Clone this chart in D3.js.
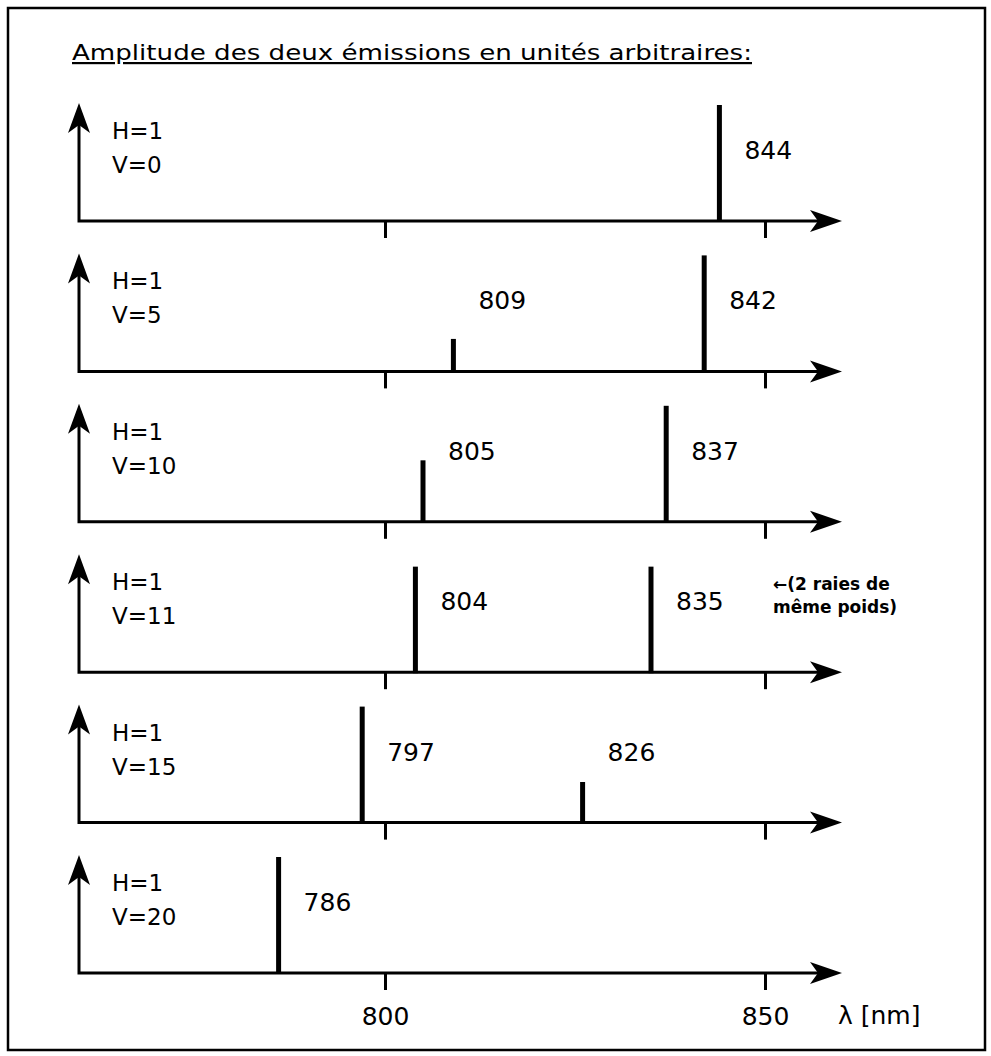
<!DOCTYPE html>
<head>
<meta charset="utf-8">
<style>
body { margin: 0; background: #fff; }
text { font-family: "DejaVu Sans", sans-serif; fill: #000; }
.axe { stroke: #000; stroke-width: 3; fill: none; }
.raie { stroke: #000; stroke-width: 5; }
</style>
<body>
<script src="https://cdn.jsdelivr.net/npm/d3@7/dist/d3.min.js"></script>
<script>

// data
var panels = ["V=0", "V=5", "V=10", "V=11", "V=15", "V=20"];
var hLabel = "H=1";
var wavelengths = [[844], [809, 842], [805, 837], [804, 835], [797, 826], [786]];
var amplitudes = [[1.0], [0.28, 1.0], [0.53, 1.0], [0.91, 0.91], [1.0, 0.35], [1.0]];
var tickValues = [800, 850];
var title = "Amplitude des deux émissions en unités arbitraires:";
var note = ["←(2 raies de", "même poids)"];
var unitLabel = "λ [nm]";

var width = 991, height = 1056;

var svg = d3.select("body").append("svg")
    .attr("width", width)
    .attr("height", height);

// frame
svg.append("rect")
    .attr("x", 8).attr("y", 8)
    .attr("width", 977).attr("height", 1042)
    .attr("fill", "none")
    .attr("stroke", "#000")
    .attr("stroke-width", 2.5);

// title
svg.append("text")
    .attr("x", 72).attr("y", 60)
    .style("font-size", "22px")
    .style("text-decoration", "underline")
    .attr("textLength", 680)
    .attr("lengthAdjust", "spacingAndGlyphs")
    .text(title);

// scales
var x = d3.scaleLinear().domain([800, 850]).range([385, 765]);
var base = d3.scalePoint().domain(panels).range([221, 973]);
var amp = d3.scaleLinear().domain([0, 1]).range([0, 116]);

var axisLeft = 79, axisRight = 842, axisTop = 118;

panels.forEach(function(p, i) {
  var g = svg.append("g").attr("transform", "translate(0," + base(p) + ")");

  // ticks at 800 and 850 (labels only on the last panel)
  var last = i === panels.length - 1;
  var ax = g.append("g")
      .call(d3.axisBottom(x).tickValues(tickValues).tickSize(17)
        .tickPadding(17).tickFormat(last ? d3.format("d") : ""));
  ax.select(".domain").remove();
  ax.selectAll("line").attr("stroke", "#000").attr("stroke-width", 3);
  ax.selectAll("text").style("font-family", "DejaVu Sans").style("font-size", "25px").attr("fill", "#000");

  // axes
  g.append("path").attr("class", "axe")
      .attr("d", "M" + axisLeft + ",-" + (axisTop - 8) + "V0H" + (axisRight - 10));
  g.append("path")
      .attr("d", "M" + axisRight + ",0l-32,-11l8,11l-8,11z");
  g.append("path")
      .attr("d", "M" + axisLeft + ",-" + axisTop + "l-11,30l11,-8l11,8z");

  // labels H / V
  g.append("text").attr("x", 112).attr("y", -82).style("font-size", "23px").text(hLabel);
  g.append("text").attr("x", 112).attr("y", -48).style("font-size", "23px").text(p);

  // emission lines
  var d = wavelengths[i].map(function(w, j) { return {w: w, a: amplitudes[i][j]}; });
  g.selectAll(".raie").data(d).enter().append("line")
      .attr("class", "raie")
      .attr("x1", function(e) { return x(e.w); })
      .attr("x2", function(e) { return x(e.w); })
      .attr("y1", 1)
      .attr("y2", function(e) { return -amp(e.a); });
  g.selectAll(".val").data(d).enter().append("text")
      .attr("class", "val")
      .attr("x", function(e) { return x(e.w) + 25; })
      .attr("y", -62)
      .style("font-size", "25px")
      .text(function(e) { return e.w; });

  if (p === "V=11") {
    g.selectAll(".note").data(note).enter().append("text")
        .attr("class", "note")
        .attr("x", 773)
        .attr("y", function(t, k) { return -82 + k * 23; })
        .style("font-size", "17px")
        .style("font-weight", "bold")
        .text(function(t) { return t; });
  }
});

// unit label
svg.append("text")
    .attr("x", 838).attr("y", 1024)
    .style("font-size", "25px")
    .text(unitLabel);

</script>
</body>
